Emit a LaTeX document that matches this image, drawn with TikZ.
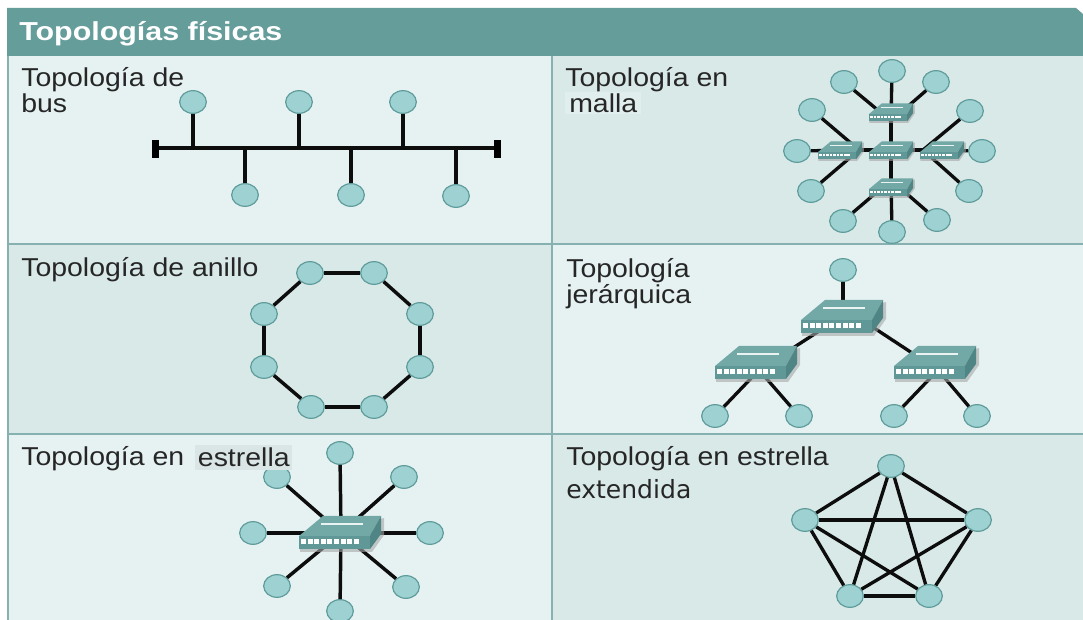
\documentclass[tikz,border=0pt]{standalone}
\usepackage{fontspec}
\setmainfont[FakeStretch=1.1]{Liberation Sans}
\newfontfamily\headfont[FakeStretch=1.17]{Liberation Sans}
\newfontfamily\extfont{DejaVu Sans}
\usetikzlibrary{shapes.geometric}
\definecolor{panellight}{HTML}{E6F2F2}
\definecolor{paneldark}{HTML}{D9E9E8}
\definecolor{panelline}{HTML}{86B1B0}
\definecolor{headfill}{HTML}{659D9B}
\definecolor{pcfill}{HTML}{9ED2D2}
\definecolor{pcline}{HTML}{5F9C9B}
\definecolor{swtop}{HTML}{72A8A6}
\definecolor{swfront}{HTML}{5F9897}
\definecolor{swside}{HTML}{4F8584}
\tikzset{
  pcnode/.style={ellipse,draw=pcline,fill=pcfill,line width=0.9pt,minimum width=20pt,minimum height=17pt,inner sep=0pt},
  link/.style={line width=2.6pt,black!95},
  thinlink/.style={line width=2.5pt,black!95},
  label/.style={anchor=north west,inner sep=0pt,align=left,font=\fontsize{19.4}{20}\selectfont,text=black!85},
  switch/.pic={
    \fill[black!35,opacity=.6] (-40,8) -- (-40,20) -- (32,20) -- (44,3) -- (44,-14) -- cycle;
    \fill[swtop] (-41,4) -- (-17,-16) -- (41,-16) -- (30,4) -- cycle;
    \fill[swside] (30,4) -- (41,-16) -- (41,2) -- (30,17) -- cycle;
    \fill[swfront] (-41,4) rectangle (30,17);
    \draw[white!85!swtop,line width=0.8pt] (-19,-8) -- (23,-8);
    \foreach \i in {0,...,8}
      \fill[white] (-39+6.6*\i,7) rectangle (-34+6.6*\i,12);
  }
}
\begin{document}
\begin{tikzpicture}[x=0.75pt,y=0.75pt,yscale=-1,xscale=1]
\clip (0,0) rectangle (1083,620);
\fill[white] (0,0) rectangle (1083,620);

%Panels
\fill[panellight] (8,56) rectangle (552,244);
\fill[paneldark] (552,56) rectangle (1083,244);
\fill[paneldark] (8,244) rectangle (552,434);
\fill[panellight] (552,244) rectangle (1083,434);
\fill[panellight] (8,434) rectangle (552,620);
\fill[paneldark] (552,434) rectangle (1083,620);
\draw[panelline,line width=1.5pt] (8,56) -- (8,620);
\draw[panelline,line width=1.5pt] (552,56) -- (552,620);
\draw[panelline,line width=1.5pt] (8,244) -- (1083,244);
\draw[panelline,line width=1.5pt] (8,434) -- (1083,434);

%Header
\fill[headfill] (7,8) -- (1076,8) -- (1083,14) -- (1083,56) -- (7,56) -- cycle;
\node[anchor=west,inner sep=0pt,text=white,font=\headfont\bfseries\fontsize{19.5}{22}\selectfont] (title) at (19,34) {Topologías físicas};

%Bus
\coordinate (busL) at (155,148);
\coordinate (busR) at (497,148);
\draw[link] (busL) -- (busR);
\fill[black] (152,140) rectangle (159,158);
\fill[black] (494,140) rectangle (501,158);
\foreach \name/\x/\y in {a/193/102,b/299/102,c/403/102,d/245/195,e/351/195,f/456/196}{
  \node[pcnode] (bus\name) at (\x,\y) {};
  \coordinate (tap\name) at (\x,148);
  \draw[link] (bus\name) -- (tap\name);
}

%Ring
\foreach \name/\x/\y in {1/310/273,2/374/273,3/420/314,4/420/367,5/374/407,6/311/407,7/264/367,8/264/314}
  \node[pcnode] (ring\name) at (\x,\y) {};
\foreach \a/\b in {1/2,2/3,3/4,4/5,5/6,6/7,7/8,8/1}
  \draw[link] (ring\a) -- (ring\b);

%Star
\coordinate (hub) at (341,533);
\foreach \name/\x/\y in {1/340/453,2/404/477,3/430/533,4/406/587,5/340/611,6/277/586,7/253/533,8/277/477}{
  \node[pcnode] (star\name) at (\x,\y) {};
  \draw[link] (hub) -- (star\name);
}
\pic[transform shape] at (340,532) {switch};

%Mesh
\coordinate (meshHub) at (891,150);
\coordinate (meshT) at (891,121);
\coordinate (meshL) at (859,150);
\coordinate (meshR) at (923,150);
\coordinate (meshB) at (891,180);
\foreach \side/\name/\x/\y in {T/1/844/82,T/2/892/71,T/3/936/82,L/4/812/110,L/5/797/151,L/6/811/191,R/7/970/111,R/8/982/151,R/9/969/191,B/10/843/221,B/11/892/232,B/12/937/220}{
  \node[pcnode] (mesh\name) at (\x,\y) {};
  \draw[thinlink] (mesh\side) -- (mesh\name);
}
\foreach \side in {T,L,R,B}
  \draw[thinlink] (meshHub) -- (mesh\side);
\foreach \x/\y in {891/112,840/150,942/150,891/187,891/150}
  \pic[transform shape,scale=.54] at (\x,\y) {switch};

%Tree
\node[pcnode] (treeTop) at (843,270) {};
\coordinate (swT) at (843,316);
\coordinate (swTl) at (830,324);
\coordinate (swTr) at (868,324);
\coordinate (swL) at (759,370);
\coordinate (swR) at (938,370);
\draw[link] (swT) -- (treeTop);
\draw[thinlink] (swTl) -- (swL);
\draw[thinlink] (swTr) -- (swR);
\foreach \name/\x/\sw in {1/715/L,2/799/L,3/894/R,4/977/R}{
  \node[pcnode] (tree\name) at (\x,416) {};
  \draw[thinlink] (sw\sw) -- (tree\name);
}
\pic[transform shape] at (842,316) {switch};
\pic[transform shape] at (756,362) {switch};
\pic[transform shape] at (935,362) {switch};

%Full
\foreach \name/\x/\y in {1/891/466,2/805/520,3/978/520,4/850/596,5/929/596}
  \node[pcnode] (full\name) at (\x,\y) {};
\foreach \a/\b in {1/2,1/3,1/4,1/5,2/3,2/4,2/5,3/4,3/5,4/5}
  \draw[thinlink] (full\a) -- (full\b);

% Text Node
\node[label] (busText) at (21,67) {Topología de\\bus};
\node[label] (meshText) at (565,67) {Topología en};
\node[label,fill=panellight!60!paneldark,inner xsep=3pt,inner ysep=1pt] (meshText2) at (565,92) {malla};
\node[label] (ringText) at (21,257) {Topología de anillo};
\node[label] (treeText) at (566,258) {Topología\\jerárquica};
\node[label] (starText) at (21,446) {Topología en};
\node[label,fill=black!5!panellight,inner xsep=2pt,inner ysep=2pt] (starText2) at (195,445) {estrella};
\node[label] (fullText) at (566,446) {Topología en estrella};
\node[label,font=\extfont\fontsize{18.8}{20}\selectfont] (fullText2) at (566,479) {extendida};

\end{tikzpicture}
\end{document}
